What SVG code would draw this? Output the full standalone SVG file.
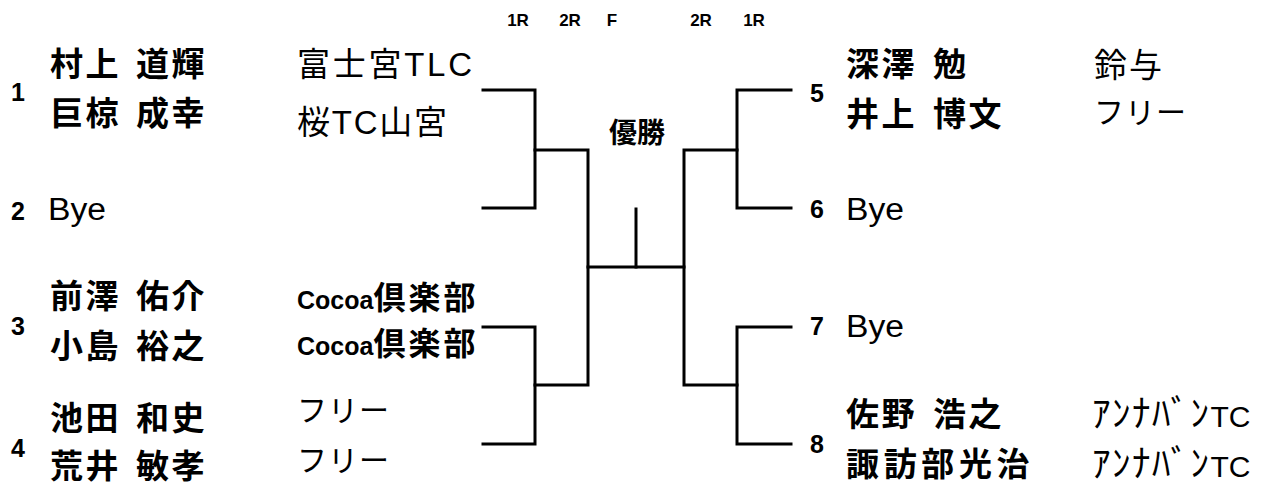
<svg xmlns="http://www.w3.org/2000/svg" width="1263" height="486" viewBox="0 0 1263 486">
<style>
.num{font-family:"Liberation Sans",Arial,sans-serif;font-weight:bold;font-size:25px;text-anchor:middle;fill:#000}
.name{font-family:"Noto Sans CJK JP",sans-serif;font-weight:bold;font-size:33px;letter-spacing:2.5px;fill:#000}
.club{font-family:"Liberation Sans","Noto Sans CJK JP",sans-serif;font-size:33px;fill:#000}
.kana{font-family:"Noto Sans CJK JP",sans-serif;font-size:30px;letter-spacing:1px;fill:#000}
.cocoa{font-family:"Liberation Sans","Noto Sans CJK JP",sans-serif;font-weight:bold;fill:#000}
.hw{font-family:"Noto Sans CJK JP",sans-serif;font-size:37px;letter-spacing:1.5px}
.tc{font-family:"Liberation Sans",Arial,sans-serif;font-size:30px}
.bye{font-family:"Liberation Sans",Arial,sans-serif;font-size:31px;fill:#000}
.hdr{font-family:"Liberation Sans",Arial,sans-serif;font-weight:bold;font-size:17px;text-anchor:middle;fill:#000}
.win{font-family:"Noto Sans CJK JP",sans-serif;font-weight:bold;font-size:28px;text-anchor:middle;fill:#000}
.ln{fill:none;stroke:#000;stroke-width:3;stroke-linecap:square}
</style>
<rect width="1263" height="486" fill="#fff"/>
<g id="headers">
<text class="hdr" x="518" y="26">1R</text>
<text class="hdr" x="570" y="26">2R</text>
<text class="hdr" x="612" y="26">F</text>
<text class="hdr" x="701" y="26">2R</text>
<text class="hdr" x="754" y="26">1R</text>
</g>
<g id="champion">
<text class="win" x="637" y="143">優勝</text>
</g>
<g id="connectors">
<path class="ln" d="M483,90 H535 V208 H483"/>
<path class="ln" d="M483,327 H535 V444 H483"/>
<path class="ln" d="M535,150 H588 V385 H535"/>
<path class="ln" d="M588,267 H684"/>
<path class="ln" d="M636,209 V267"/>
<path class="ln" d="M791,90 H737 V208 H791"/>
<path class="ln" d="M791,327 H737 V444 H791"/>
<path class="ln" d="M737,150 H684 V385 H737"/>
</g>
<g id="entry1">
<text class="num" x="18" y="101">1</text>
<text class="name" x="50" y="76">村上 <tspan x="136">道輝</tspan></text>
<text class="name" x="50" y="125">巨椋 <tspan x="136">成幸</tspan></text>
<text class="club" x="297" y="76" textLength="175" lengthAdjust="spacing">富士宮TLC</text>
<text class="club" x="297" y="134" textLength="150" lengthAdjust="spacing">桜TC山宮</text>
</g>
<g id="entry2">
<text class="num" x="18" y="220">2</text>
<text class="bye" x="48" y="220" textLength="58" lengthAdjust="spacingAndGlyphs">Bye</text>
</g>
<g id="entry3">
<text class="num" x="18" y="335">3</text>
<text class="name" x="50" y="308">前澤 <tspan x="136">佑介</tspan></text>
<text class="name" x="50" y="358">小島 <tspan x="136">裕之</tspan></text>
<text class="cocoa" x="297" y="309"><tspan font-size="25">Cocoa</tspan><tspan font-size="32" letter-spacing="3">倶楽部</tspan></text>
<text class="cocoa" x="297" y="355"><tspan font-size="25">Cocoa</tspan><tspan font-size="32" letter-spacing="3">倶楽部</tspan></text>
</g>
<g id="entry4">
<text class="num" x="18" y="457">4</text>
<text class="name" x="50" y="430">池田 <tspan x="136">和史</tspan></text>
<text class="name" x="50" y="478">荒井 <tspan x="136">敏孝</tspan></text>
<text class="kana" x="297" y="421">フリー</text>
<text class="kana" x="297" y="471">フリー</text>
</g>
<g id="entry5">
<text class="num" x="817" y="102">5</text>
<text class="name" x="846" y="76">深澤 <tspan x="933">勉</tspan></text>
<text class="name" x="846" y="126">井上 <tspan x="933">博文</tspan></text>
<text class="club" x="1094" y="77" letter-spacing="2">鈴与</text>
<text class="kana" x="1094" y="123">フリー</text>
</g>
<g id="entry6">
<text class="num" x="817" y="218">6</text>
<text class="bye" x="846" y="220" textLength="58" lengthAdjust="spacingAndGlyphs">Bye</text>
</g>
<g id="entry7">
<text class="num" x="817" y="335">7</text>
<text class="bye" x="846" y="337" textLength="58" lengthAdjust="spacingAndGlyphs">Bye</text>
</g>
<g id="entry8">
<text class="num" x="817" y="453">8</text>
<text class="name" x="846" y="426">佐野 <tspan x="933">浩之</tspan></text>
<text class="name" x="846" y="476" textLength="186" lengthAdjust="spacing">諏訪部光治</text>
<text x="1092" y="427"><tspan class="hw">ｱﾝﾅﾊﾞﾝ</tspan><tspan class="tc">TC</tspan></text>
<text x="1092" y="477"><tspan class="hw">ｱﾝﾅﾊﾞﾝ</tspan><tspan class="tc">TC</tspan></text>
</g>
</svg>
